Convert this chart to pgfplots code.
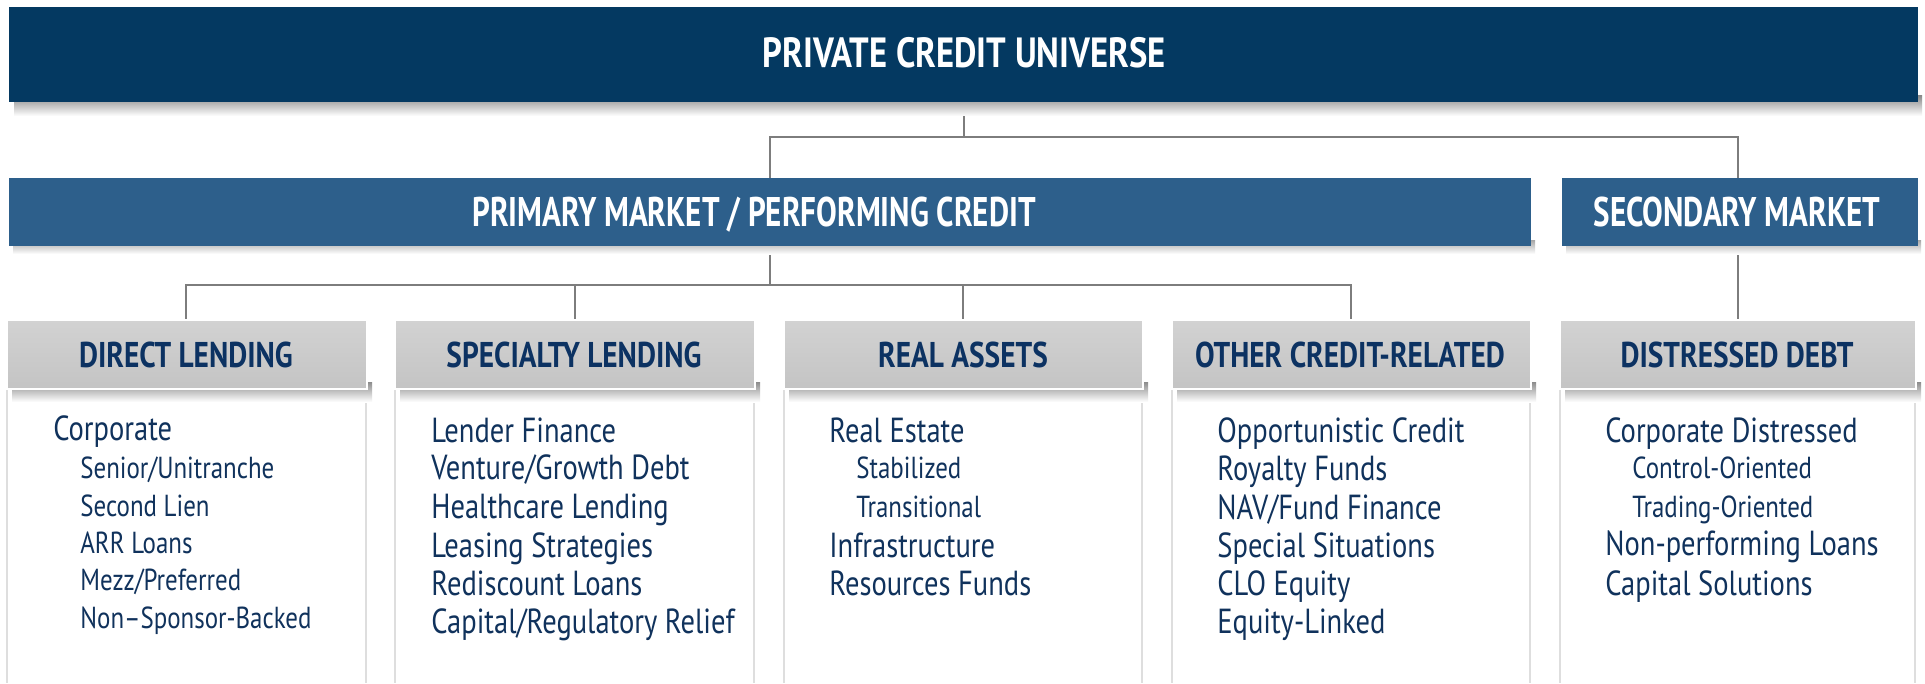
\documentclass[border=0pt]{standalone}
\usepackage{pgfplots}
\pgfplotsset{compat=1.18}
\usepackage{fontspec}
\setmainfont{PT Sans}[FakeStretch=0.82]
\newfontfamily\condfont{PT Sans}[FakeStretch=0.75]
\definecolor{navy}{RGB}{4,57,97}
\definecolor{steel}{RGB}{45,95,139}
\definecolor{hdrtop}{RGB}{210,210,210}
\definecolor{hdrbot}{RGB}{196,196,196}
\definecolor{hdrtext}{RGB}{12,50,98}
\definecolor{bodytext}{RGB}{16,50,92}
\definecolor{conn}{RGB}{125,125,125}
\definecolor{edge}{RGB}{222,222,222}
\newcommand{\itm}[3]{\node[anchor=base west,inner sep=0pt,font=\fontsize{17.4}{19}\selectfont,text=bodytext] at (axis cs:#1,#2) {#3};}
\newcommand{\sbi}[3]{\node[anchor=base west,inner sep=0pt,font=\fontsize{15.2}{17}\selectfont,text=bodytext] at (axis cs:#1,#2) {#3};}
\newcommand{\hdr}[3]{\node[anchor=base,inner sep=0pt,font=\bfseries\fontsize{17.9}{20}\selectfont,text=hdrtext] at (axis cs:#1,#2) {#3};}
\begin{document}
\begin{tikzpicture}
\begin{axis}[width=962.5pt,height=341.5pt,scale only axis,
  xmin=0,xmax=1925,ymin=0,ymax=683,y dir=reverse,hide axis,clip=false]
% background
\addplot[draw=none,fill=white] coordinates {(0,0) (1925,0) (1925,683) (0,683)} -- cycle;
% connectors
\addplot[conn,line width=1pt] coordinates {(964,102) (964,137)};
\addplot[conn,line width=1pt] coordinates {(770,178) (770,137) (1738,137) (1738,178)};
\addplot[conn,line width=1pt] coordinates {(770,246) (770,285)};
\addplot[conn,line width=1pt] coordinates {(186,320) (186,285) (1351,285) (1351,320)};
\addplot[conn,line width=1pt] coordinates {(575,285) (575,320)};
\addplot[conn,line width=1pt] coordinates {(963,285) (963,320)};
\addplot[conn,line width=1pt] coordinates {(1738,246) (1738,320)};
% title box
\addplot[draw=none,top color=black!45,bottom color=white] coordinates {(14,96) (1922,96) (1922,116) (14,116)} -- cycle;
\addplot[draw=none,fill=navy] coordinates {(9,7) (1918,7) (1918,102) (9,102)} -- cycle;
% second row
\addplot[draw=none,top color=black!35,bottom color=white] coordinates {(13,240) (1535,240) (1535,254) (13,254)} -- cycle;
\addplot[draw=none,top color=black!35,bottom color=white] coordinates {(1566,240) (1921,240) (1921,254) (1566,254)} -- cycle;
\addplot[draw=none,fill=steel] coordinates {(9,178) (1531,178) (1531,246) (9,246)} -- cycle;
\addplot[draw=none,fill=steel] coordinates {(1562,178) (1918,178) (1918,246) (1562,246)} -- cycle;
% body boxes (edges)
\addplot[edge,line width=1pt] coordinates {(7,389) (7,683)};
\addplot[edge,line width=1pt] coordinates {(366,389) (366,683)};
\addplot[edge,line width=1pt] coordinates {(395,389) (395,683)};
\addplot[edge,line width=1pt] coordinates {(754,389) (754,683)};
\addplot[edge,line width=1pt] coordinates {(784,389) (784,683)};
\addplot[edge,line width=1pt] coordinates {(1142,389) (1142,683)};
\addplot[edge,line width=1pt] coordinates {(1172,389) (1172,683)};
\addplot[edge,line width=1pt] coordinates {(1530,389) (1530,683)};
\addplot[edge,line width=1pt] coordinates {(1560,389) (1560,683)};
\addplot[edge,line width=1pt] coordinates {(1915,389) (1915,683)};
% header shadows
\addplot[draw=none,top color=black!45,bottom color=white] coordinates {(12,382) (372,382) (372,402) (12,402)} -- cycle;
\addplot[draw=none,top color=black!45,bottom color=white] coordinates {(400,382) (760,382) (760,402) (400,402)} -- cycle;
\addplot[draw=none,top color=black!45,bottom color=white] coordinates {(789,382) (1148,382) (1148,402) (789,402)} -- cycle;
\addplot[draw=none,top color=black!45,bottom color=white] coordinates {(1177,382) (1536,382) (1536,402) (1177,402)} -- cycle;
\addplot[draw=none,top color=black!45,bottom color=white] coordinates {(1565,382) (1921,382) (1921,402) (1565,402)} -- cycle;
% header boxes
\addplot[draw=white,line width=0.6pt,top color=hdrtop,bottom color=hdrbot] coordinates {(7,320) (367,320) (367,389) (7,389)} -- cycle;
\addplot[draw=white,line width=0.6pt,top color=hdrtop,bottom color=hdrbot] coordinates {(395,320) (755,320) (755,389) (395,389)} -- cycle;
\addplot[draw=white,line width=0.6pt,top color=hdrtop,bottom color=hdrbot] coordinates {(784,320) (1143,320) (1143,389) (784,389)} -- cycle;
\addplot[draw=white,line width=0.6pt,top color=hdrtop,bottom color=hdrbot] coordinates {(1172,320) (1531,320) (1531,389) (1172,389)} -- cycle;
\addplot[draw=white,line width=0.6pt,top color=hdrtop,bottom color=hdrbot] coordinates {(1560,320) (1916,320) (1916,389) (1560,389)} -- cycle;
% titles
\node[anchor=base,inner sep=0pt,font=\bfseries\fontsize{21.1}{24}\selectfont,text=white] at (axis cs:964,68) {PRIVATE CREDIT UNIVERSE};
\node[anchor=base,inner sep=0pt,font=\condfont\bfseries\fontsize{20.7}{24}\selectfont,text=white] at (axis cs:754,227) {PRIMARY MARKET / PERFORMING CREDIT};
\node[anchor=base,inner sep=0pt,font=\condfont\bfseries\fontsize{20.7}{24}\selectfont,text=white] at (axis cs:1737,227) {SECONDARY MARKET};
\hdr{186}{367}{DIRECT LENDING}
\hdr{574}{367}{SPECIALTY LENDING}
\hdr{963}{367}{REAL ASSETS}
\hdr{1350}{367}{OTHER CREDIT-RELATED}
\hdr{1737}{367}{DISTRESSED DEBT}
% column 1
\itm{53}{440}{Corporate}
\sbi{80}{478}{Senior/Unitranche}
\sbi{80}{516}{Second Lien}
\sbi{80}{553}{ARR Loans}
\sbi{80}{590}{Mezz/Preferred}
\sbi{80}{628}{Non–Sponsor-Backed}
% column 2
\itm{431}{442}{Lender Finance}
\itm{431}{479}{Venture/Growth Debt}
\itm{431}{518}{Healthcare Lending}
\itm{431}{557}{Leasing Strategies}
\itm{431}{595}{Rediscount Loans}
\itm{431}{633}{Capital/Regulatory Relief}
% column 3
\itm{829}{442}{Real Estate}
\sbi{856}{478}{Stabilized}
\sbi{856}{517}{Transitional}
\itm{829}{557}{Infrastructure}
\itm{829}{595}{Resources Funds}
% column 4
\itm{1217}{442}{Opportunistic Credit}
\itm{1217}{480}{Royalty Funds}
\itm{1217}{519}{NAV/Fund Finance}
\itm{1217}{557}{Special Situations}
\itm{1217}{595}{CLO Equity}
\itm{1217}{633}{Equity-Linked}
% column 5
\itm{1605}{442}{Corporate Distressed}
\sbi{1632}{478}{Control-Oriented}
\sbi{1632}{517}{Trading-Oriented}
\itm{1605}{555}{Non-performing Loans}
\itm{1605}{595}{Capital Solutions}
\end{axis}
\end{tikzpicture}
\end{document}
